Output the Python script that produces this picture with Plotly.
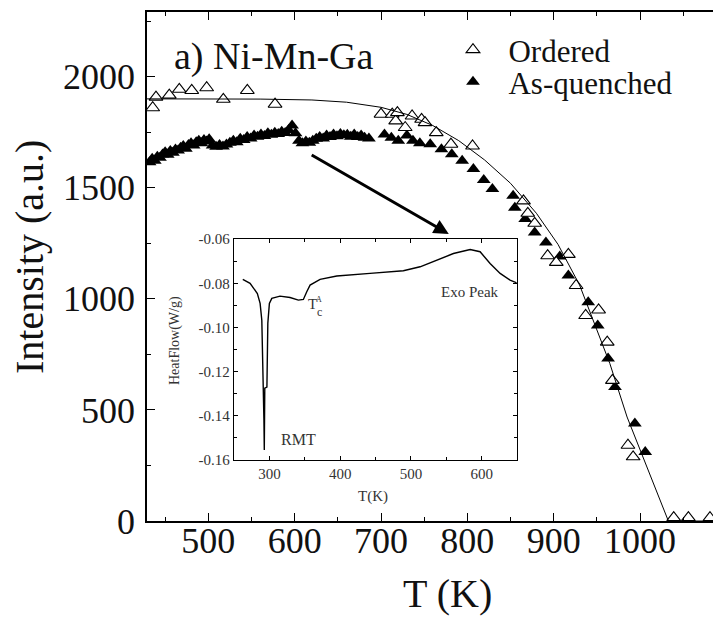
import plotly.graph_objects as go

# ---------------- data ----------------
ordered_T = [435.6, 439.4, 454.8, 466.4, 480.8, 498.1, 517.4, 545.2, 577.3,
             700, 713, 717, 719, 728, 736, 747, 751, 764, 781, 806,
             865, 870, 878, 893, 903, 917, 926, 937, 952, 962, 968, 986, 992,
             1039, 1056, 1081]
ordered_I = [1860, 1908, 1917, 1943, 1938, 1950, 1898, 1938, 1876,
             1831, 1831, 1801, 1838, 1771, 1823, 1808, 1793, 1748, 1696, 1688,
             1441, 1385, 1340, 1194, 1164, 1200, 1060, 925, 950, 805, 633, 341, 289,
             15, 15, 15]

quenched_T = [432, 435, 438, 441, 444, 447, 450, 453, 456, 459, 462, 465, 468, 471,
              474, 477, 480, 483, 486, 489, 492, 495, 498, 501, 505, 509, 513, 517,
              521, 525, 529, 533, 537, 541, 545, 549, 553, 557, 561, 565, 569, 573,
              577, 581, 585, 589, 593, 597, 601, 605, 609, 613, 617, 621, 625, 629,
              633, 637, 641, 645, 649, 653, 657, 661, 665, 669, 673, 677, 681, 686,
              704, 712, 720, 730, 737, 745, 757, 770, 782, 794, 807, 819, 829, 853,
              855, 867, 878, 891, 907, 917, 940, 951, 963, 971, 994, 1006]
quenched_I = [1615, 1630, 1622, 1640, 1635, 1650, 1660, 1648, 1665, 1658, 1672, 1668, 1680, 1688,
              1676, 1692, 1700, 1690, 1705, 1712, 1700, 1715, 1708, 1718, 1690, 1684, 1692, 1686,
              1695, 1702, 1712, 1705, 1720, 1715, 1728, 1722, 1735, 1730, 1740, 1733, 1745, 1738,
              1748, 1742, 1752, 1746, 1760, 1780, 1745, 1712, 1700, 1708, 1702, 1712, 1720, 1728,
              1722, 1735, 1728, 1740, 1732, 1742, 1736, 1738, 1730, 1740, 1728, 1735, 1725, 1722,
              1740, 1725, 1711, 1735, 1711, 1700, 1696, 1673, 1651, 1621, 1584, 1535, 1494, 1464,
              1410, 1359, 1299, 1254, 1190, 1105, 985, 880, 731, 603, 439, 311]

fit_T = [429, 500, 560, 620, 660, 700, 730, 760, 790, 820, 850, 880, 905, 930,
         946, 965, 985, 1004, 1020, 1032, 1034, 1085]
fit_I = [1900, 1900, 1899, 1895, 1885, 1862, 1830, 1780, 1712, 1625, 1520, 1385, 1245, 1062,
         902, 709, 468, 285, 130, 8, 0, 0]

dsc_T = [262.4, 272.7, 283.0, 286.9, 289.3, 290.5, 291.3, 292.3, 292.8, 293.2, 293.5,
         296.5, 297.5, 297.8, 300.0, 303.4, 315.0, 329.2, 341.0, 348.0, 352.8, 357.5,
         371.6, 395.2, 442.2, 489.3, 512.9, 536.4, 560.0, 583.6, 597.7, 611.8, 626.0,
         640.0, 649.5]
dsc_HF = [-0.0782, -0.0800, -0.0846, -0.0891, -0.0967, -0.1120, -0.1270, -0.1420, -0.1555,
          -0.1420, -0.1275, -0.1270, -0.1050, -0.0980, -0.0891, -0.0868, -0.0858, -0.0864,
          -0.0876, -0.0873, -0.0838, -0.0808, -0.0782, -0.0767, -0.0755, -0.0743, -0.0725,
          -0.0695, -0.0665, -0.0647, -0.0657, -0.0710, -0.0755, -0.0785, -0.0798]

main_xticks = [500, 600, 700, 800, 900, 1000]
main_yticks = [0, 500, 1000, 1500, 2000]
inset_xticks = [300, 400, 500, 600]
inset_yticks = [-0.16, -0.14, -0.12, -0.10, -0.08, -0.06]
inset_yticktext = ["-0.16", "-0.14", "-0.12", "-0.10", "-0.08", "-0.06"]

SERIF = "Liberation Serif, Times New Roman, serif"
INK = "#111111"

fig = go.Figure()
fig.add_trace(go.Scatter(x=quenched_T, y=quenched_I, mode="markers",
                         marker=dict(symbol="triangle-up", size=12, color="black",
                                     line=dict(width=0)),
                         name="\u2002As-quenched", legend="legend2"))
fig.add_trace(go.Scatter(x=ordered_T, y=ordered_I, mode="markers",
                         marker=dict(symbol="triangle-up", size=12, color="white",
                                     line=dict(width=1.1, color="black")),
                         name="\u2002Ordered", legend="legend"))
fig.add_trace(go.Scatter(x=fit_T, y=fit_I, mode="lines",
                         line=dict(color="black", width=1), showlegend=False))
fig.add_trace(go.Scatter(x=dsc_T, y=dsc_HF, mode="lines", xaxis="x2", yaxis="y2",
                         line=dict(color="black", width=1.4), showlegend=False))

axis_common = dict(showgrid=False, zeroline=False, showline=True, linecolor="black",
                   linewidth=1.6, ticks="inside", ticklen=8, tickwidth=1.4,
                   tickcolor="black")

fig.update_layout(
    width=713, height=619,
    margin=dict(l=147, r=0, t=12, b=98),
    paper_bgcolor="white", plot_bgcolor="white",
    font=dict(family=SERIF, color=INK),
    xaxis=dict(range=[429, 1084.5], tickvals=main_xticks, mirror="ticks",
               tickfont=dict(size=36, family=SERIF, color=INK),
               minor=dict(dtick=50, tick0=0, ticks="inside", ticklen=4, tickwidth=1.4,
                          tickcolor="black"),
               ticklabelstandoff=-13, **axis_common),
    yaxis=dict(range=[0, 2291], tickvals=main_yticks, mirror=False,
               tickfont=dict(size=36, family=SERIF, color=INK),
               minor=dict(dtick=250, tick0=0, ticks="inside", ticklen=4, tickwidth=1.4,
                          tickcolor="black"),
               ticklabelstandoff=3, **axis_common),
    xaxis2=dict(domain=[0.1537, 0.6532], anchor="y2", range=[250, 649.4],
                tickvals=inset_xticks, mirror="ticks",
                tickfont=dict(size=15, family=SERIF, color="#333333"),
                minor=dict(dtick=50, tick0=0, ticks="inside", ticklen=3, tickwidth=1,
                           tickcolor="black"),
                showgrid=False, zeroline=False, showline=True, linecolor="black",
                linewidth=1.3, ticks="inside", ticklen=4, tickwidth=1, tickcolor="black"),
    yaxis2=dict(domain=[0.1198, 0.5537], anchor="x2", range=[-0.16, -0.06],
                tickvals=inset_yticks, ticktext=inset_yticktext, mirror="ticks",
                tickfont=dict(size=15, family=SERIF, color="#333333"),
                minor=dict(dtick=0.01, tick0=0, ticks="inside", ticklen=3, tickwidth=1,
                           tickcolor="black"),
                showgrid=False, zeroline=False, showline=True, linecolor="black",
                linewidth=1.3, ticks="inside", ticklen=4, tickwidth=1, tickcolor="black"),
    legend=dict(x=0.5406, y=0.9253, xanchor="left", yanchor="middle",
                font=dict(size=31, family=SERIF, color=INK), bgcolor="rgba(0,0,0,0)",
                borderwidth=0),
    legend2=dict(x=0.5406, y=0.8625, xanchor="left", yanchor="middle",
                 font=dict(size=31, family=SERIF, color=INK), bgcolor="rgba(0,0,0,0)",
                 borderwidth=0),
)

ann = []
# axis titles
ann.append(dict(text="T (K)", xref="paper", yref="paper", x=0.5318, y=-0.1415,
                xanchor="center", yanchor="middle", showarrow=False,
                font=dict(size=40, family=SERIF, color=INK)))
ann.append(dict(text="Intensity (a.u.)", xref="paper", yref="paper", x=-0.2067, y=0.5187,
                xanchor="center", yanchor="middle", showarrow=False, textangle=-90,
                font=dict(size=40, family=SERIF, color=INK)))
# panel label
ann.append(dict(text="a) Ni-Mn-Ga", xref="paper", yref="paper", x=0.2244, y=0.9116,
                xanchor="center", yanchor="middle", showarrow=False,
                font=dict(size=38, family=SERIF, color=INK)))
# arrow
ann.append(dict(text="", x=778.5, y=1292, ax=618, ay=1651, xref="x", yref="y",
                axref="x", ayref="y", showarrow=True, arrowhead=2, arrowsize=1,
                arrowwidth=3, arrowcolor="black"))
# inset titles
ann.append(dict(text="T(K)", xref="x2 domain", yref="y2 domain", x=0.493, y=-0.166,
                xanchor="center", yanchor="middle", showarrow=False,
                font=dict(size=15, family=SERIF, color="#333333")))
ann.append(dict(text="HeatFlow(W/g)", xref="x2 domain", yref="y2 domain", x=-0.209, y=0.543,
                xanchor="center", yanchor="middle", showarrow=False, textangle=-90,
                font=dict(size=14, family=SERIF, color="#333333")))
# inset labels
ann.append(dict(text="RMT", xref="x2", yref="y2", x=341, y=-0.1506, showarrow=False,
                xanchor="center", yanchor="middle",
                font=dict(size=16, family=SERIF, color="#333333")))
ann.append(dict(text="Exo Peak", xref="x2", yref="y2", x=583.6, y=-0.0838, showarrow=False,
                xanchor="center", yanchor="middle",
                font=dict(size=15, family=SERIF, color="#333333")))
ann.append(dict(text="T", xref="x2", yref="y2", x=361, y=-0.0895, showarrow=False,
                xanchor="center", yanchor="middle",
                font=dict(size=15, family=SERIF, color="#333333")))
ann.append(dict(text="A", xref="x2", yref="y2", x=369.5, y=-0.0872, showarrow=False,
                xanchor="center", yanchor="middle",
                font=dict(size=8, family=SERIF, color="#333333")))
ann.append(dict(text="c", xref="x2", yref="y2", x=370.5, y=-0.0928, showarrow=False,
                xanchor="center", yanchor="middle",
                font=dict(size=12, family=SERIF, color="#333333")))
fig.update_layout(annotations=ann)

fig.write_html("out.html")
